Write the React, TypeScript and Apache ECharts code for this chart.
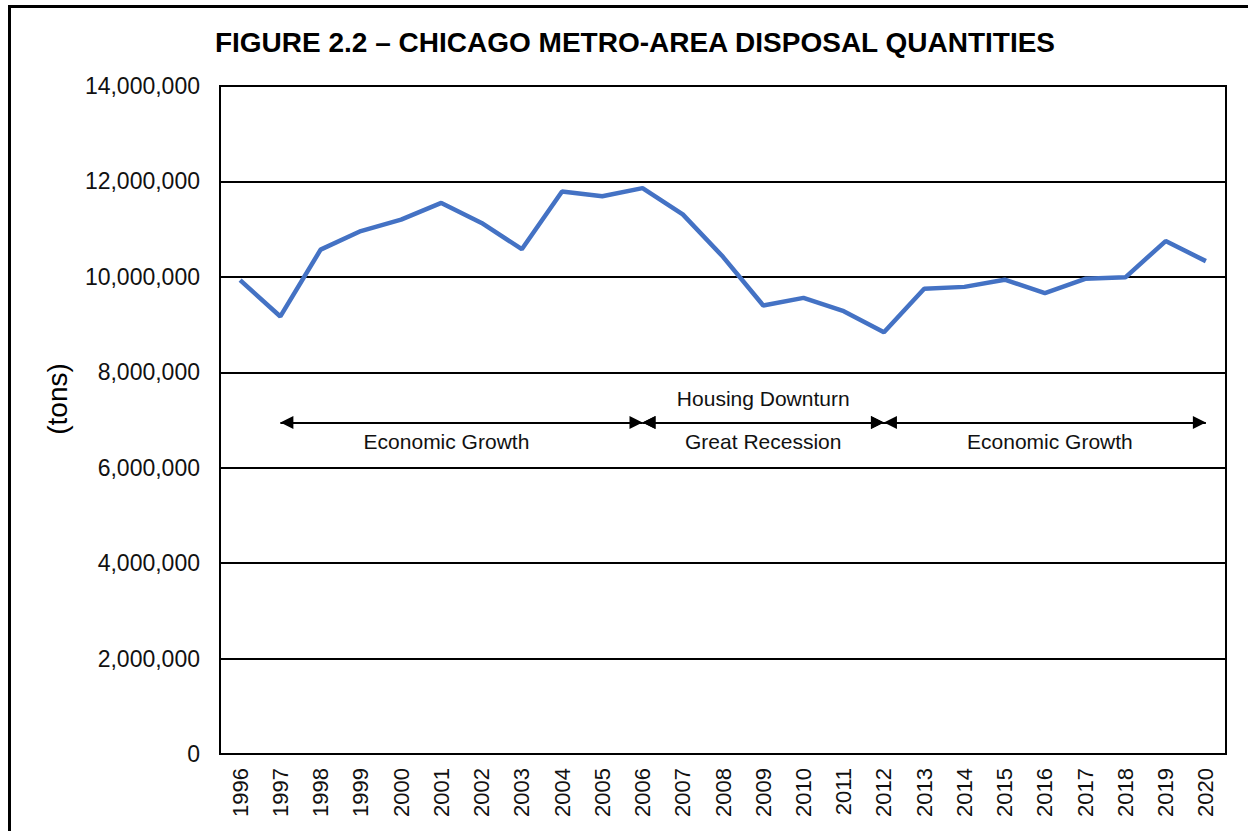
import React, { useEffect, useRef } from "react";
import * as echarts from "echarts";

const years = [
  "1996", "1997", "1998", "1999", "2000", "2001", "2002", "2003", "2004", "2005",
  "2006", "2007", "2008", "2009", "2010", "2011", "2012", "2013", "2014", "2015",
  "2016", "2017", "2018", "2019", "2020",
];
const tons = [
  9930000, 9170000, 10570000, 10960000, 11200000, 11550000, 11130000, 10580000, 11790000, 11690000,
  11860000, 11310000, 10420000, 9400000, 9560000, 9280000, 8840000, 9750000, 9790000, 9940000,
  9660000, 9960000, 9990000, 10750000, 10330000,
];
const periods = [
  { from: "1997", to: "2006", top: "", bottom: "Economic Growth" },
  { from: "2006", to: "2012", top: "Housing Downturn", bottom: "Great Recession" },
  { from: "2012", to: "2020", top: "", bottom: "Economic Growth" },
];
const labelShift = [-15, 0, 5];
const arrowLevel = 6950000;
const yTicks = { min: 0, max: 14000000, interval: 2000000 };
const titleText = "FIGURE 2.2 \u2013 CHICAGO METRO-AREA DISPOSAL QUANTITIES";
const yName = "(tons)";

const FONT = "'Liberation Sans', Arial, sans-serif";

export default function App() {
  const ref = useRef<HTMLDivElement>(null);
  useEffect(() => {
    if (!ref.current) return;
    const chart = echarts.init(ref.current, undefined, { renderer: "svg" });

    const lineData: any[] = [];
    periods.forEach((p, i) => {
      const s = labelShift[i];
      const pad = s < 0 ? [0, -2 * s, 0, 0] : [0, 0, 0, 2 * s];
      lineData.push([
        {
          coord: [p.from, arrowLevel],
          label: { formatter: p.bottom, position: "insideMiddleBottom", distance: 9, padding: pad },
        },
        { coord: [p.to, arrowLevel] },
      ]);
      if (p.top) {
        lineData.push([
          {
            coord: [p.from, arrowLevel],
            label: { formatter: p.top, position: "insideMiddleTop", distance: 13 },
          },
          { coord: [p.to, arrowLevel] },
        ]);
      }
    });

    chart.setOption({
      animation: false,
      backgroundColor: "#ffffff",
      textStyle: { fontFamily: FONT },
      title: {
        text: titleText,
        left: 630,
        textAlign: "center",
        top: 23,
        textStyle: { fontFamily: FONT, fontSize: 28, fontWeight: "bold", color: "#000" },
      },
      graphic: [
        {
          type: "polyline",
          shape: { points: [[9.5, 831], [9.5, 6.5], [1248, 6.5]] },
          style: { stroke: "#000", lineWidth: 3, fill: "none" },
        },
        {
          type: "rect",
          shape: { x: 220, y: 86, width: 1006, height: 668 },
          style: { stroke: "#000", lineWidth: 2, fill: "none" },
          z: 10,
        },
        {
          type: "text",
          x: 57,
          y: 399,
          rotation: Math.PI / 2,
          style: {
            text: yName,
            font: `28px ${FONT}`,
            fill: "#000",
            align: "center",
            verticalAlign: "middle",
          },
        },
      ],
      grid: { left: 220, top: 86, right: 22, bottom: 77, containLabel: false },
      xAxis: {
        type: "category",
        data: years,
        boundaryGap: true,
        axisLine: { lineStyle: { color: "#000", width: 2 } },
        axisTick: { show: false },
        axisLabel: {
          rotate: 90,
          margin: 14,
          fontSize: 22,
          color: "#111",
          fontFamily: FONT,
          interval: 0,
        },
      },
      yAxis: {
        type: "value",
        min: yTicks.min,
        max: yTicks.max,
        interval: yTicks.interval,
        axisLine: { show: true, lineStyle: { color: "#000", width: 2 } },
        axisTick: { show: false },
        splitLine: { lineStyle: { color: "#000", width: 2 } },
        axisLabel: {
          margin: 20,
          fontSize: 23,
          color: "#111",
          fontFamily: FONT,
          formatter: (v: number) => v.toLocaleString("en-US"),
        },
      },
      series: [
        {
          type: "line",
          data: tons,
          symbol: "none",
          lineStyle: { color: "#4472C4", width: 4.5 },
          z: 5,
          markLine: {
            silent: true,
            symbol: ["triangle", "triangle"],
            symbolSize: [13, 13],
            symbolOffset: [[0, 6.5], [0, 6.5]],
            lineStyle: { color: "#000", width: 2, type: "solid" },
            label: {
              show: true,
              fontSize: 21,
              fontFamily: FONT,
              color: "#111",
            },
            data: lineData,
          },
        },
      ],
    });
    return () => chart.dispose();
  }, []);
  return (
    <div
      ref={ref}
      style={{ position: "absolute", left: 0, top: 0, width: 1248, height: 831 }}
    />
  );
}
